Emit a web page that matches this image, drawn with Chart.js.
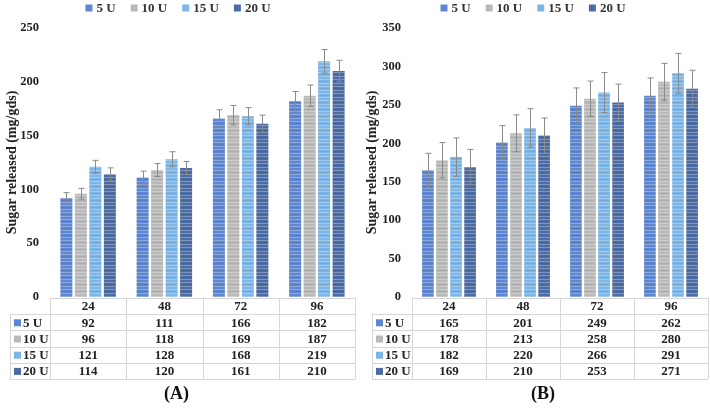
<!DOCTYPE html>
<html>
<head>
<meta charset="utf-8">
<script src="https://cdn.jsdelivr.net/npm/chart.js@4/dist/chart.umd.min.js"></script>
<style>
  body { margin: 0; background: #fff; width: 710px; height: 410px; position: relative; overflow: hidden; }
  canvas { position: absolute; top: 0; }
  #cA { left: 0; }
  #cB { left: 360px; }
  .cap { position: absolute; top: 383px; font: bold 18px "Liberation Serif", serif; color: #111; }
</style>
</head>
<body>
<canvas id="cA" width="360" height="410"></canvas>
<canvas id="cB" width="350" height="410"></canvas>
<div class="cap" style="left:164px">(A)</div>
<div class="cap" style="left:531px">(B)</div>
<script>
// Time points (h) and enzyme loadings
const categories = ['24', '48', '72', '96'];
const seriesNames = ['5 U', '10 U', '15 U', '20 U'];
const seriesColors = ['#5f87cf', '#b9b9b9', '#7db5e6', '#4d6ca4'];

// Panel A
const valuesA = [
    [92, 111, 166, 182],
    [96, 118, 169, 187],
    [121, 128, 168, 219],
    [114, 120, 161, 210],
];
const errorsA = [
    [5, 6, 8, 9],
    [5, 6, 9, 10],
    [6, 7, 8, 11],
    [6, 6, 8, 10],
];
const ticksA = { max: 250, step: 50 };

// Panel B
const valuesB = [
    [165, 201, 249, 262],
    [178, 213, 258, 280],
    [182, 220, 266, 291],
    [169, 210, 253, 271],
];
const errorsB = [
    [22, 22, 23, 23],
    [23, 24, 23, 24],
    [25, 25, 26, 26],
    [23, 23, 24, 24],
];
const ticksB = { max: 350, step: 50 };

const serif = '"Liberation Serif", "Times New Roman", serif';

// striped fill like the original bars
function stripes(color) {
    const c = document.createElement('canvas');
    c.width = 4; c.height = 7;
    const g = c.getContext('2d');
    g.fillStyle = color;
    g.fillRect(0, 0, 4, 7);
    g.fillStyle = 'rgba(255,255,255,0.28)';
    g.fillRect(0, 2, 4, 1);
    g.fillRect(0, 6, 4, 1);
    g.fillStyle = 'rgba(0,0,0,0.06)';
    g.fillRect(0, 4, 4, 1);
    return g.createPattern(c, 'repeat');
}

// legend drawn by hand so it sits tight at the top
const topLegend = {
    id: 'topLegend',
    afterDraw(chart) {
        const ctx = chart.ctx;
        ctx.save();
        ctx.font = 'bold 13px ' + serif;
        ctx.textBaseline = 'middle';
        ctx.textAlign = 'left';
        const widths = seriesNames.map(n => 11 + ctx.measureText(n).width);
        const gap = 15;
        const total = widths.reduce((a, b) => a + b, 0) + gap * (widths.length - 1);
        let x = (chart.width - total) / 2 - 2;
        const y = 8;
        seriesNames.forEach((n, i) => {
            ctx.fillStyle = seriesColors[i];
            ctx.fillRect(x, y - 3.5, 7, 7);
            ctx.fillStyle = '#333';
            ctx.fillText(n, x + 11, y + 1);
            x += widths[i] + gap;
        });
        ctx.restore();
    }
};

const errorBars = {
    id: 'errorBars',
    afterDatasetsDraw(chart) {
        const ctx = chart.ctx;
        const y = chart.scales.y;
        ctx.save();
        ctx.strokeStyle = '#8a8a8a';
        ctx.lineWidth = 1;
        chart.data.datasets.forEach((ds, i) => {
            chart.getDatasetMeta(i).data.forEach((bar, j) => {
                const v = ds.data[j], e = ds.errors[j];
                const x = Math.round(bar.x) + 0.5;
                const yt = y.getPixelForValue(v + e), yb = y.getPixelForValue(v - e);
                ctx.beginPath();
                ctx.moveTo(x, yt); ctx.lineTo(x, yb);
                ctx.moveTo(x - 3, yt); ctx.lineTo(x + 3, yt);
                ctx.moveTo(x - 3, yb); ctx.lineTo(x + 3, yb);
                ctx.stroke();
            });
        });
        ctx.restore();
    }
};

const dataTable = {
    id: 'dataTable',
    afterDraw(chart) {
        const ctx = chart.ctx;
        const area = chart.chartArea;
        const n = categories.length;
        const colW = (area.right - area.left) / n;
        const top = area.bottom + 1;
        const rowH = 16.2;
        const headLeft = area.left - 40;
        const bottom = top + rowH * (seriesNames.length + 1);
        ctx.save();
        ctx.strokeStyle = '#d6d6d6';
        ctx.lineWidth = 1;
        ctx.beginPath();
        ctx.moveTo(area.left, top + 0.5); ctx.lineTo(area.right, top + 0.5);
        for (let r = 1; r <= seriesNames.length + 1; r++) {
            const yy = Math.round(top + r * rowH) + 0.5;
            ctx.moveTo(headLeft, yy); ctx.lineTo(area.right, yy);
        }
        for (let c = 0; c <= n; c++) {
            const xx = Math.round(area.left + c * colW) + 0.5;
            ctx.moveTo(xx, top); ctx.lineTo(xx, bottom);
        }
        ctx.moveTo(headLeft + 0.5, top + rowH); ctx.lineTo(headLeft + 0.5, bottom);
        ctx.stroke();

        ctx.font = 'bold 13px ' + serif;
        ctx.fillStyle = '#222';
        ctx.textBaseline = 'middle';
        ctx.textAlign = 'center';
        categories.forEach((c, j) => {
            ctx.fillText(c, area.left + colW * (j + 0.5), top + rowH / 2 + 1);
        });
        chart.data.datasets.forEach((ds, i) => {
            const yy = top + rowH * (i + 1.5) + 1;
            ctx.fillStyle = seriesColors[i];
            ctx.fillRect(headLeft + 4, yy - 4, 7, 7);
            ctx.fillStyle = '#222';
            ctx.textAlign = 'left';
            ctx.fillText(ds.label, headLeft + 13, yy);
            ctx.textAlign = 'center';
            ds.data.forEach((v, j) => {
                ctx.fillText(String(v), area.left + colW * (j + 0.5), yy);
            });
        });
        ctx.restore();
    }
};

function makeChart(id, values, errors, ticks, leftW, padRight) {
    new Chart(document.getElementById(id), {
        type: 'bar',
        data: {
            labels: categories,
            datasets: seriesNames.map((name, i) => ({
                label: name,
                data: values[i],
                errors: errors[i],
                backgroundColor: stripes(seriesColors[i]),
                borderWidth: 0,
                categoryPercentage: 0.76,
                barPercentage: 0.83,
            })),
        },
        options: {
            responsive: false,
            animation: false,
            layout: { padding: { left: 4, right: padRight, top: 28, bottom: 113 } },
            plugins: {
                legend: { display: false },
                tooltip: { enabled: false },
            },
            scales: {
                x: { display: false },
                y: {
                    min: 0,
                    max: ticks.max,
                    grid: { display: false, drawTicks: false },
                    border: { display: false },
                    ticks: {
                        stepSize: ticks.step,
                        padding: 11,
                        color: '#222',
                        font: { family: serif, size: 12.5, weight: 'bold' },
                    },
                    title: {
                        display: true,
                        text: 'Sugar released (mg/gds)',
                        color: '#222',
                        padding: 0,
                        font: { family: serif, size: 14, weight: 'bold' },
                    },
                    afterFit(scale) { scale.width = leftW; },
                },
            },
        },
        plugins: [errorBars, dataTable, topLegend],
    });
}

makeChart('cA', valuesA, errorsA, ticksA, 46, 5);
makeChart('cB', valuesB, errorsB, ticksB, 48, 2);
</script>
</body>
</html>
